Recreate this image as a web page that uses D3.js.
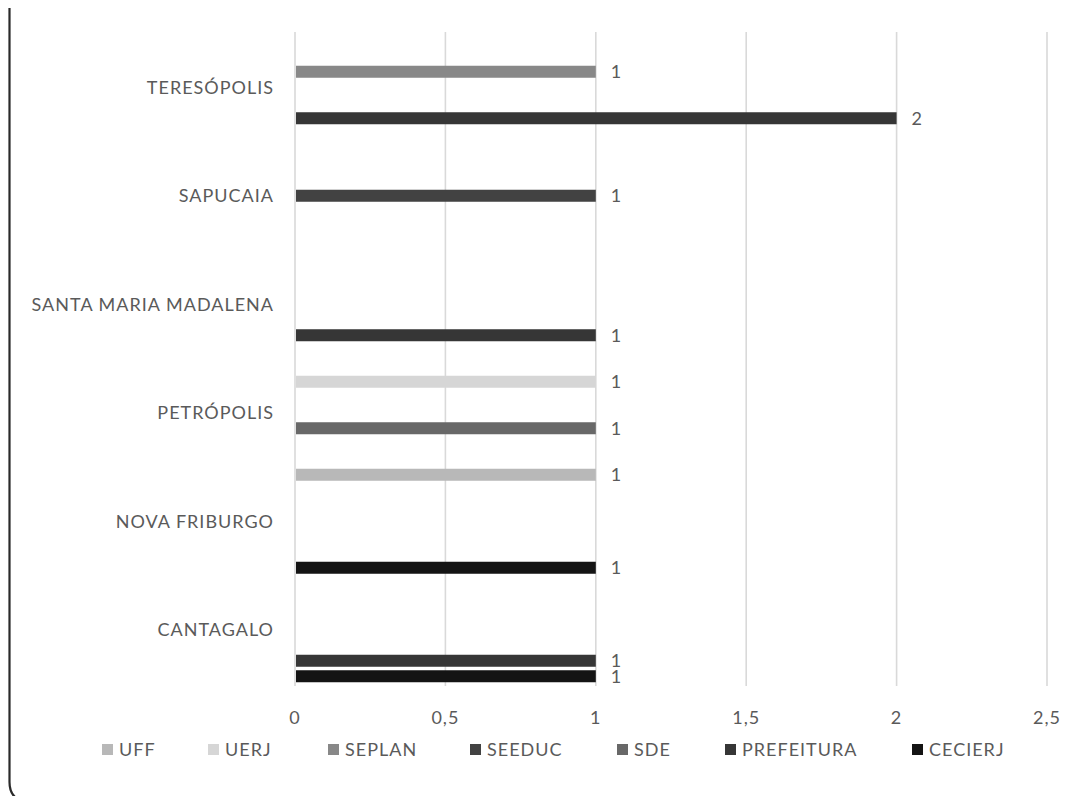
<!DOCTYPE html>
<html><head><meta charset="utf-8">
<script src="https://cdn.jsdelivr.net/npm/d3@7"></script>
<style>body{margin:0;background:#fff}svg{display:block}text{font-family:Lato,"Open Sans",sans-serif;fill:#5a5a5a;letter-spacing:1px}</style>
</head><body><svg id="c" width="1075" height="796"></svg>
<script>
const categories = ["CANTAGALO","NOVA FRIBURGO","PETRÓPOLIS","SANTA MARIA MADALENA","SAPUCAIA","TERESÓPOLIS"];
const seriesNames = ["UFF","UERJ","SEPLAN","SEEDUC","SDE","PREFEITURA","CECIERJ"];
const seriesColors = ["#b8b8b8","#d6d6d6","#888888","#424242","#686868","#363636","#141414"];
// values per series, aligned with categories (null = no bar)
const UFF        = [null, 1, null, null, null, null];
const UERJ       = [null, null, 1, null, null, null];
const SEPLAN     = [null, null, null, null, null, 1];
const SEEDUC     = [null, null, null, null, 1, null];
const SDE        = [null, null, 1, null, null, null];
const PREFEITURA = [1, null, null, 1, null, 2];
const CECIERJ    = [1, 1, null, null, null, null];
const xTicks = [0, 0.5, 1, 1.5, 2, 2.5];

const seriesValues = [UFF, UERJ, SEPLAN, SEEDUC, SDE, PREFEITURA, CECIERJ];
const svg = d3.select("#c");
const L = 295, R = 1047, T = 33, B = 684;

const x = d3.scaleLinear().domain([0, 2.5]).range([L, R]);
const y = d3.scaleBand().domain(categories.slice().reverse()).range([T, B]).padding(0);
const ys = d3.scaleBand().domain(seriesNames).range([0, y.bandwidth()]).padding(0);

// border
svg.append("path").attr("d", "M9.5,8 L9.5,782 Q9.5,796 20,800").attr("fill","none").attr("stroke","#2a2a2a").attr("stroke-width",2.2);

// gridlines
svg.append("g").selectAll("line").data(xTicks).join("line")
  .attr("x1", d=>x(d)).attr("x2", d=>x(d)).attr("y1", T-1).attr("y2", B+2)
  .attr("stroke", "#d9d9d9").attr("stroke-width", 1.6);

// bars
const flat = [];
seriesValues.forEach((vals, si) => vals.forEach((v, ci) => { if (v != null) flat.push({s: seriesNames[si], si, c: categories[ci], v}); }));
const bh = ys.bandwidth();
svg.append("g").selectAll("rect").data(flat).join("rect")
  .attr("x", x(0)+1).attr("y", d => y(d.c) + ys(d.s) + (bh-12)/2)
  .attr("width", d => x(d.v) - x(0) - 1).attr("height", 12)
  .attr("fill", d => seriesColors[d.si]);

// value labels
svg.append("g").selectAll("text").data(flat).join("text")
  .attr("x", d => x(d.v) + 15).attr("y", d => y(d.c) + ys(d.s) + bh/2)
  .attr("dy", "0.35em").attr("font-size", 18).text(d => d.v);

// category labels
svg.append("g").selectAll("text").data(categories).join("text")
  .attr("x", L - 21).attr("y", d => y(d) + y.bandwidth()/2).attr("dy", "0.35em")
  .attr("text-anchor", "end").attr("font-size", 18).text(d => d);

// x tick labels
svg.append("g").selectAll("text").data(xTicks).join("text")
  .attr("x", d => x(d)).attr("y", 718).attr("dy", "0.35em").attr("text-anchor", "middle")
  .attr("font-size", 18).text(d => String(d).replace(".", ","));

// legend
const legX = [102, 208, 328, 470, 617, 725, 912];
const lg = svg.append("g").selectAll("g").data(seriesNames).join("g")
  .attr("transform", (d,i) => `translate(${legX[i]},750)`);
lg.append("rect").attr("x",0).attr("y",-6).attr("width",11).attr("height",11).attr("fill",(d,i)=>seriesColors[i]);
lg.append("text").attr("x",17).attr("y",0).attr("dy","0.35em").attr("font-size",18).text(d=>d);
</script></body></html>
